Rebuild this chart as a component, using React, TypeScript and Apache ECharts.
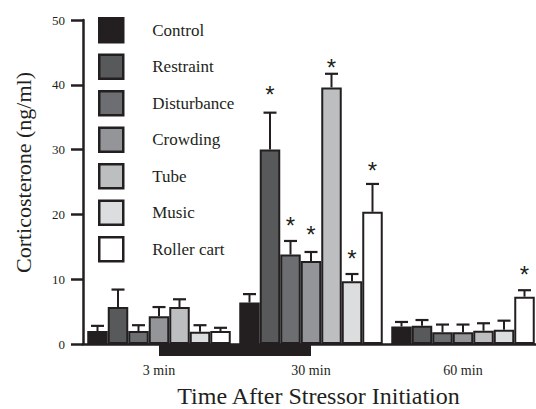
import React, { useEffect, useRef } from "react";
import * as echarts from "echarts";

const categories = ["3 min", "30 min", "60 min"];
const seriesNames = ["Control", "Restraint", "Disturbance", "Crowding", "Tube", "Music", "Roller cart"];
const seriesColors = ["#231f20", "#58595b", "#6d6e71", "#939598", "#bcbec0", "#dcdddf", "#ffffff"];

const controlMean = [2.0, 6.4, 2.7];
const restraintMean = [5.7, 30.0, 2.8];
const disturbanceMean = [2.0, 13.8, 1.8];
const crowdingMean = [4.3, 12.8, 1.8];
const tubeMean = [5.7, 39.6, 2.05];
const musicMean = [1.9, 9.7, 2.2];
const rollerMean = [2.0, 20.4, 7.3];

const controlErr = [0.8, 1.3, 0.7];
const restraintErr = [2.7, 5.7, 0.9];
const disturbanceErr = [0.9, 2.1, 1.2];
const crowdingErr = [1.4, 1.4, 1.2];
const tubeErr = [1.2, 2.1, 1.15];
const musicErr = [1.0, 1.1, 1.4];
const rollerErr = [0.5, 4.3, 1.0];

// height (ng/ml) at which the significance asterisk sits; null = no asterisk
const controlStar = [null, null, null];
const restraintStar = [null, 38.9, null];
const disturbanceStar = [null, 18.7, null];
const crowdingStar = [null, 17.3, null];
const tubeStar = [null, 43.2, null];
const musicStar = [null, 13.7, null];
const rollerStar = [null, 27.3, 11.2];

const yTicks = { min: 0, max: 50, interval: 10 };

const means = [controlMean, restraintMean, disturbanceMean, crowdingMean, tubeMean, musicMean, rollerMean];
const errs = [controlErr, restraintErr, disturbanceErr, crowdingErr, tubeErr, musicErr, rollerErr];
const stars = [controlStar, restraintStar, disturbanceStar, crowdingStar, tubeStar, musicStar, rollerStar];

const BAR_W = 20.5;
const INK = "#231f20";
const SERIF = "'Liberation Serif', 'Times New Roman', serif";

export default function App() {
  const ref = useRef<HTMLDivElement>(null);
  useEffect(() => {
    if (!ref.current) return;
    const chart = echarts.init(ref.current, null, { renderer: "svg" });

    const errData: any[] = [];
    means.forEach((m, si) => {
      m.forEach((v, ci) => {
        const s = stars[si][ci];
        errData.push([ci, si, v, v + errs[si][ci], s == null ? -1 : s]);
      });
    });

    const barSeries = seriesNames.map((name, si) => ({
      name,
      type: "bar",
      data: means[si],
      barWidth: BAR_W,
      barGap: "0%",
      itemStyle: { color: seriesColors[si], borderColor: INK, borderWidth: 2 },
      z: 2,
    }));

    const option: any = {
      animation: false,
      textStyle: { fontFamily: SERIF },
      grid: { left: 83, top: 20, bottom: 65, right: -3, containLabel: false, outerBoundsMode: "none" },
      legend: {
        data: seriesNames,
        orient: "vertical",
        left: 98,
        top: 17,
        padding: 0,
        itemWidth: 24,
        itemHeight: 24,
        itemGap: 10,
        icon: "rect",
        itemStyle: { borderColor: INK, borderWidth: 2.5 },
        textStyle: { fontSize: 17, color: INK, fontFamily: SERIF, padding: [0, 0, 0, 24] },
      },
      xAxis: {
        type: "category",
        data: categories,
        boundaryGap: true,
        axisLine: { lineStyle: { color: INK, width: 2.5 } },
        axisTick: { alignWithLabel: true, length: 14, lineStyle: { color: INK, width: 2 } },
        axisLabel: { fontSize: 14, color: INK, margin: 19, fontFamily: SERIF },
        name: "Time After Stressor Initiation",
        nameLocation: "middle",
        nameGap: 40,
        nameTextStyle: { fontSize: 24, color: INK, fontFamily: SERIF, padding: [0, 0, 0, 15] },
      },
      yAxis: {
        type: "value",
        min: yTicks.min,
        max: yTicks.max,
        interval: yTicks.interval,
        splitLine: { show: false },
        axisLine: { show: true, lineStyle: { color: INK, width: 2.5 } },
        axisTick: { show: true, length: 12, lineStyle: { color: INK, width: 2.5 } },
        axisLabel: { fontSize: 13, color: INK, margin: 18, fontFamily: SERIF },
        name: "Corticosterone (ng/ml)",
        nameLocation: "middle",
        nameGap: 49,
        nameTextStyle: { fontSize: 22, color: INK, fontFamily: SERIF, padding: [0, 0, 0, 19] },
      },
      series: [
        ...barSeries,
        {
          type: "custom",
          name: "errors",
          data: errData,
          encode: { x: 0, y: 3 },
          z: 5,
          renderItem: (params: any, api: any) => {
            const ci = api.value(0);
            const si = api.value(1);
            const mean = api.value(2);
            const upper = api.value(3);
            const star = api.value(4);
            const base = api.coord([ci, mean]);
            const top = api.coord([ci, upper]);
            const x = base[0] + (si - 3) * BAR_W;
            const children: any[] = [
              { type: "line", shape: { x1: x, y1: base[1], x2: x, y2: top[1] }, style: { stroke: INK, lineWidth: 2 } },
              { type: "line", shape: { x1: x - 6.5, y1: top[1], x2: x + 6.5, y2: top[1] }, style: { stroke: INK, lineWidth: 2.2 } },
            ];
            if (star >= 0) {
              const sp = api.coord([ci, star]);
              children.push({
                type: "text",
                x: x,
                y: sp[1] + 3,
                style: {
                  text: "*",
                  fontSize: 24,
                  fontFamily: "'Liberation Sans', Arial, sans-serif",
                  fill: INK,
                  align: "center",
                  verticalAlign: "middle",
                },
              });
            }
            return { type: "group", children };
          },
        },
      ],
    };
    chart.setOption(option);

    const x0 = chart.convertToPixel({ xAxisIndex: 0 }, 0) as number;
    const x1 = chart.convertToPixel({ xAxisIndex: 0 }, 1) as number;
    const y0 = chart.convertToPixel({ yAxisIndex: 0 }, 0) as number;
    chart.setOption({
      graphic: [
        { type: "rect", shape: { x: x0, y: y0, width: x1 - x0, height: 12 }, style: { fill: INK }, z: 1 },
      ],
    });

    return () => chart.dispose();
  }, []);
  return <div ref={ref} style={{ position: "absolute", left: 0, top: 0, width: 536, height: 409 }} />;
}
